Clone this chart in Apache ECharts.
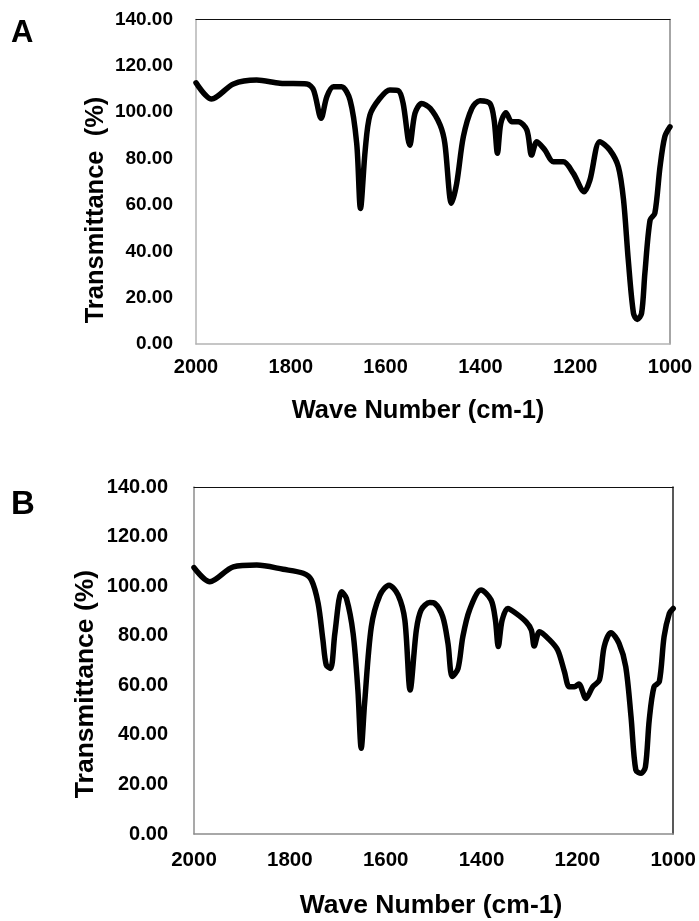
<!DOCTYPE html>
<html>
<head>
<meta charset="utf-8">
<script src="https://cdn.jsdelivr.net/npm/echarts@6/dist/echarts.min.js"></script>
<style>
html,body{margin:0;padding:0;background:#fff;}
#c{width:699px;height:921px;}
</style>
</head>
<body>
<div id="c"></div>
<script>
// Panel A data (wave number cm-1, transmittance %)
const wnA = [2000,1967,1921,1872,1823,1766,1752,1736,1724,1710,1693,1675,1661,1653,1643,1633,1612,1591,1573,1563,1549,1538,1524,1506,1485,1475,1461,1450,1436,1418,1401,1380,1371,1364,1357,1346,1334,1320,1302,1292,1281,1264,1246,1225,1204,1181,1169,1148,1127,1109,1098,1088,1077,1069,1060,1053,1042,1032,1021,1011,1000];
const tA  = [112.7,105.7,112.2,113.9,112.5,112.2,109.6,97.4,106.7,111.0,111.0,105.3,86.6,58.5,83.7,98.8,106.0,109.6,109.3,103.8,85.8,99.5,103.8,101.7,94.5,86.6,60.7,69.3,89.4,101.7,105.0,103.8,96.6,82.3,95.2,99.8,95.9,95.9,92.3,81.5,87.3,83.7,78.6,78.6,73.6,65.7,70.7,87.3,83.7,76.5,62.1,36.2,13.2,10.6,13.2,30.5,53.5,56.4,76.5,89.4,93.7];

// Panel B data
const wnB = [2000,1967,1918,1869,1814,1772,1755,1741,1731,1724,1715,1706,1692,1682,1668,1658,1651,1644,1630,1612,1593,1574,1560,1549,1536,1526,1508,1498,1481,1470,1461,1449,1439,1425,1401,1380,1371,1365,1357,1345,1328,1307,1296,1290,1279,1258,1241,1227,1217,1206,1197,1182,1168,1154,1144,1130,1113,1099,1088,1078,1067,1058,1050,1040,1029,1019,1008,1000];
const tB  = [107.5,101.8,107.8,108.5,106.8,105.2,102.5,93.1,78.3,68.2,66.8,81.0,97.7,95.1,81.0,58.1,34.6,52.7,83.6,96.4,100.4,96.4,86.3,58.1,82.3,90.4,93.4,93.1,87.7,76.9,63.5,66.8,79.6,90.4,98.4,94.4,86.3,75.6,86.3,91.0,89.0,85.6,82.3,75.8,81.6,78.3,74.2,65.5,59.4,59.4,60.5,54.7,59.4,62.1,75.6,81.2,76.9,67.5,47.3,25.8,24.5,27.1,46.0,59.4,61.4,79.6,89.0,91.0];

// Axis settings
const xMin = 1000, xMax = 2000, xStep = 200;
const yMin = 0, yMax = 140, yStep = 20;
const panelLetters = ['A', 'B'];
const yTitles = ['Transmittance  (%)', 'Transmittance (%)'];
const xTitle = 'Wave Number (cm-1)';

const FONT = '"Liberation Sans", Arial, sans-serif';
const chart = echarts.init(document.getElementById('c'), null, {renderer: 'canvas'});

const grids = [
  {left: 196, top: 19.5, width: 474, height: 324.5},
  {left: 194, top: 487, width: 480, height: 347}
];
const styles = [
  {yLabelSize: 19, xLabelSize: 20, yMargin: 23, xMargin: 13, axisGrey: '#b4b4b4', rightCol: '#888', topCol: '#111'},
  {yLabelSize: 20, xLabelSize: 20.5, yMargin: 26, xMargin: 16, axisGrey: '#8c8c8c', rightCol: '#222', topCol: '#111'}
];

const xAxes = [], yAxes = [], series = [];
[0, 1].forEach(i => {
  const s = styles[i];
  xAxes.push({
    gridIndex: i, type: 'value', min: xMin, max: xMax, interval: xStep, inverse: true,
    position: 'bottom',
    axisLine: {show: true, onZero: false, lineStyle: {color: s.axisGrey, width: 1.5}},
    axisTick: {show: false}, splitLine: {show: false},
    axisLabel: {color: '#000', fontFamily: FONT, fontWeight: 'bold', fontSize: s.xLabelSize, margin: s.xMargin,
      formatter: v => String(v)}
  });
  xAxes.push({
    gridIndex: i, type: 'value', min: xMin, max: xMax, interval: xStep, inverse: true,
    position: 'top',
    axisLine: {show: true, onZero: false, lineStyle: {color: s.topCol, width: 1.2}},
    axisTick: {show: false}, splitLine: {show: false}, axisLabel: {show: false}
  });
  yAxes.push({
    gridIndex: i, type: 'value', min: yMin, max: yMax, interval: yStep,
    position: 'left',
    axisLine: {show: true, onZero: false, lineStyle: {color: s.axisGrey, width: 1.5}},
    axisTick: {show: false}, splitLine: {show: false},
    axisLabel: {color: '#000', fontFamily: FONT, fontWeight: 'bold', fontSize: s.yLabelSize, margin: s.yMargin,
      formatter: v => v.toFixed(2)}
  });
  yAxes.push({
    gridIndex: i, type: 'value', min: yMin, max: yMax, interval: yStep,
    position: 'right',
    axisLine: {show: true, onZero: false, lineStyle: {color: s.rightCol, width: 1.5}},
    axisTick: {show: false}, splitLine: {show: false}, axisLabel: {show: false}
  });
  const wn = i === 0 ? wnA : wnB;
  const t = i === 0 ? tA : tB;
  series.push({
    type: 'line', xAxisIndex: i * 2, yAxisIndex: i * 2,
    data: wn.map((w, k) => [w, t[k]]),
    showSymbol: false, smooth: 0.3,
    lineStyle: {color: '#000', width: 5.5, join: 'round', cap: 'round'},
    animation: false
  });
});

const graphics = [
  {type: 'text', left: 11, top: 18, style: {text: panelLetters[0], font: 'bold 31px ' + FONT, fill: '#000'}},
  {type: 'text', left: 11, top: 488, style: {text: panelLetters[1], font: 'bold 33px ' + FONT, fill: '#000'}},
  {type: 'text', x: 96, y: 210, rotation: Math.PI / 2,
    style: {text: yTitles[0], font: 'bold 25.5px ' + FONT, fill: '#000', align: 'center', verticalAlign: 'middle'}},
  {type: 'text', x: 86, y: 684, rotation: Math.PI / 2,
    style: {text: yTitles[1], font: 'bold 26.5px ' + FONT, fill: '#000', align: 'center', verticalAlign: 'middle'}},
  {type: 'text', x: 418, y: 411, style: {text: xTitle, font: 'bold 25.5px ' + FONT, fill: '#000', align: 'center', verticalAlign: 'middle'}},
  {type: 'text', x: 431, y: 906, style: {text: xTitle, font: 'bold 26.5px ' + FONT, fill: '#000', align: 'center', verticalAlign: 'middle'}}
];

chart.setOption({
  animation: false,
  backgroundColor: '#fff',
  grid: grids,
  xAxis: xAxes,
  yAxis: yAxes,
  series: series,
  graphic: graphics
});
</script>
</body>
</html>
